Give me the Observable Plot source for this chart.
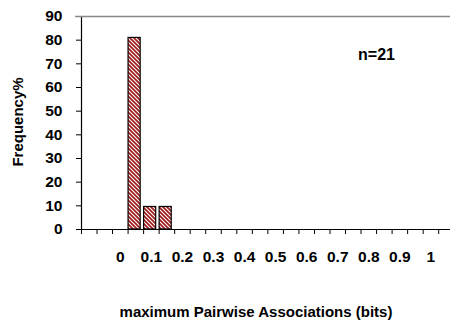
<!DOCTYPE html>
<html>
<head>
<meta charset="utf-8">
<script src="https://cdn.jsdelivr.net/npm/d3@7"></script>
<script src="https://cdn.jsdelivr.net/npm/@observablehq/plot@0.6"></script>
<style>
  html, body { margin: 0; padding: 0; background: #fff; }
</style>
</head>
<body>
<div id="chart"></div>
<script>
// Data
const binCenters = [0.05, 0.10, 0.15];
const frequency = [80.95, 9.52, 9.52];
const xLabelValues = [0, 0.1, 0.2, 0.3, 0.4, 0.5, 0.6, 0.7, 0.8, 0.9, 1.0];
const xLabelTexts = ["0", "0.1", "0.2", "0.3", "0.4", "0.5", "0.6", "0.7", "0.8", "0.9", "1"];
const yTicks = [0, 10, 20, 30, 40, 50, 60, 70, 80, 90];
const categoryBoundaries = d3.range(24).map(i => -0.125 + 0.05 * i);
const annotation = ["n=21"];
const xTitle = ["maximum Pairwise Associations (bits)"];
const yTitle = ["Frequency%"];

const bars = binCenters.map((b, i) => ({bin: b, freq: frequency[i]}));
const xMin = -0.125, xMax = 1.063;
const font = "'Liberation Sans', Arial, sans-serif";

const svg = Plot.plot({
  width: 450,
  height: 324,
  marginLeft: 81,
  marginRight: 0,
  marginTop: 16,
  marginBottom: 95,
  style: {fontFamily: font, fontWeight: "bold", fontSize: "15px", color: "#000", background: "#fff", overflow: "visible"},
  x: {type: "linear", domain: [xMin, xMax], axis: null},
  y: {domain: [0, 90], axis: null},
  marks: [
    Plot.rectY(bars, {
      x1: d => d.bin - 0.0235,
      x2: d => d.bin + 0.0155,
      y1: 0,
      y2: "freq",
      fill: "url(#hatch)",
      stroke: "#000",
      strokeWidth: 1.2
    }),
    Plot.axisY({ticks: yTicks, tickSize: 5, tickPadding: 14, fontSize: 15.5, fontWeight: "bold", label: null, stroke: "#000"}),
    Plot.axisX({ticks: categoryBoundaries, tickSize: 5, tickFormat: () => "", label: null, stroke: "#000"}),
    Plot.ruleX([xMin], {y1: 0, y2: 90, stroke: "#000", strokeWidth: 1.2}),
    Plot.ruleY([0], {x1: xMin - 0.016, x2: xMax, stroke: "#000", strokeWidth: 1.2}),
    Plot.ruleY([90], {x1: xMin - 0.019, x2: xMax, stroke: "#888", strokeWidth: 1.5}),
    Plot.text(xLabelValues, {
      x: d => d,
      y: 0,
      dy: 28,
      text: (d, i) => xLabelTexts[i],
      fontSize: 15.5,
      fontWeight: "bold",
      fill: "#000"
    }),
    Plot.text(yTitle, {frameAnchor: "left", textAnchor: "middle", dx: -63, dy: -1, rotate: -90, fontSize: 15, fontWeight: "bold", fill: "#000"}),
    Plot.text(xTitle, {frameAnchor: "bottom", dx: -10, dy: 87, fontSize: 15, fontWeight: "bold", fill: "#000"}),
    Plot.text(annotation, {frameAnchor: "top-right", dx: -74, dy: 32, textAnchor: "middle", fontSize: 16, fontWeight: "bold", fill: "#000"})
  ]
});

svg.insertAdjacentHTML("afterbegin",
  `<defs><pattern id="hatch" width="4" height="4" patternUnits="userSpaceOnUse">
     <rect width="4" height="4" fill="#fff"/>
     <path d="M-1,-1L5,5M-1,3L1,5M3,-1L5,1" stroke="#9e1a1a" stroke-width="1.7"/>
   </pattern></defs>`);

document.getElementById("chart").appendChild(svg);
</script>
</body>
</html>
